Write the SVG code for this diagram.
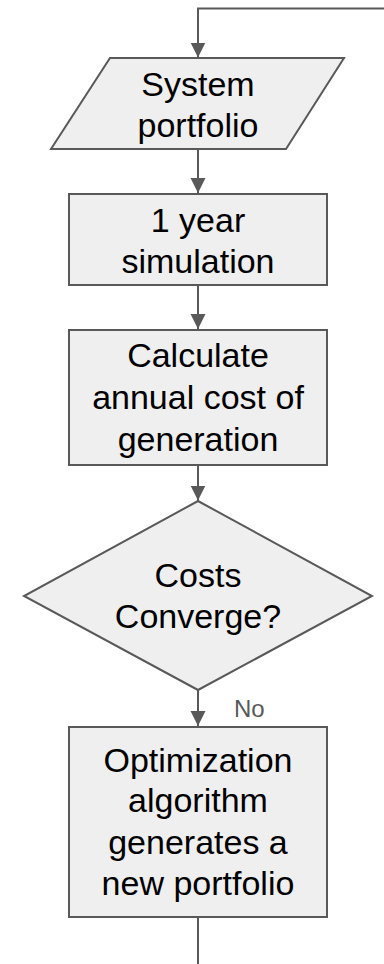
<svg xmlns="http://www.w3.org/2000/svg" width="384" height="964" viewBox="0 0 384 964">
<style>
.n{fill:#efefef;stroke:#595959;stroke-width:2}
.t{font-family:"Liberation Sans",Arial,sans-serif;font-size:34px;fill:#000;text-anchor:middle}
.c{fill:none;stroke:#595959;stroke-width:2}
.l{font-family:"Liberation Sans",Arial,sans-serif;font-size:24px;fill:#595959}
</style>
<defs>
<marker id="a" markerUnits="userSpaceOnUse" markerWidth="16" markerHeight="16" viewBox="0 0 16 16" refX="15" refY="8" orient="auto">
<path d="M0,0.5 L15,8 L0,15.5 Z" fill="#595959"/>
</marker>
</defs>
<g id="connectors">
<path class="c" d="M384,8.5 H198 V57.5" marker-end="url(#a)"/>
<path class="c" d="M198,149 V193" marker-end="url(#a)"/>
<path class="c" d="M198,285 V329" marker-end="url(#a)"/>
<path class="c" d="M198,465 V500.5" marker-end="url(#a)"/>
<path class="c" d="M198,690 V726" marker-end="url(#a)"/>
<path class="c" d="M198,917 V964"/>
<text class="l" x="234" y="717">No</text>
</g>
<g id="portfolio">
<polygon class="n" points="110,58 344,58 286,149 51,149"/>
<text class="t" x="198" y="96">System</text>
<text class="t" x="198" y="137">portfolio</text>
</g>
<g id="simulation">
<rect class="n" x="69" y="194" width="258" height="91"/>
<text class="t" x="198" y="232">1 year</text>
<text class="t" x="198" y="273">simulation</text>
</g>
<g id="calculate">
<rect class="n" x="69" y="330" width="258" height="135"/>
<text class="t" x="198" y="367">Calculate</text>
<text class="t" x="198" y="409">annual cost of</text>
<text class="t" x="198" y="450.5">generation</text>
</g>
<g id="converge">
<polygon class="n" points="198,501 372,596 198,690 24,596"/>
<text class="t" x="198" y="587">Costs</text>
<text class="t" x="198" y="628">Converge?</text>
</g>
<g id="optimization">
<rect class="n" x="69" y="727" width="258" height="190"/>
<text class="t" x="198" y="772">Optimization</text>
<text class="t" x="198" y="812">algorithm</text>
<text class="t" x="198" y="854">generates a</text>
<text class="t" x="198" y="895">new portfolio</text>
</g>
</svg>
